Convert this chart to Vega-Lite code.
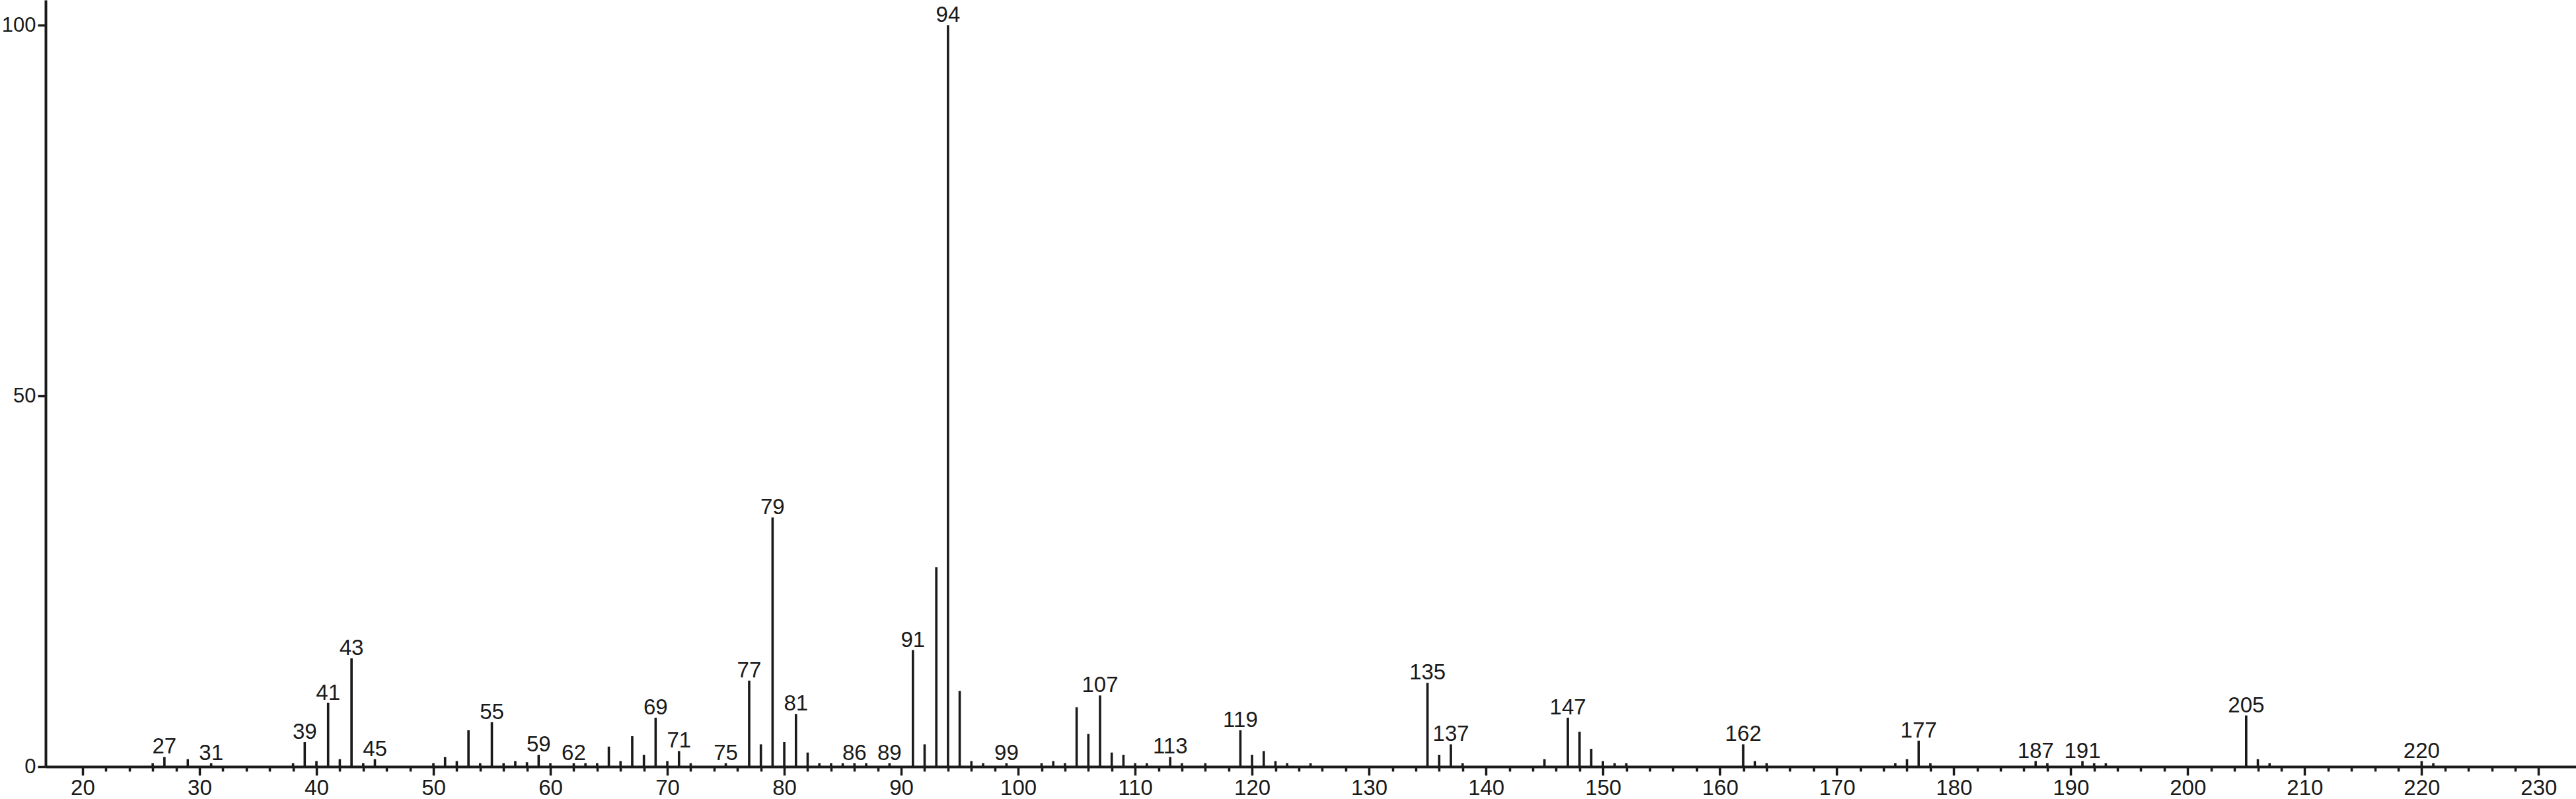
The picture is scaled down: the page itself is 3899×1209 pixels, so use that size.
{
  "$schema": "https://vega.github.io/schema/vega-lite/v6.json",
  "autosize": "none",
  "width": 3830,
  "height": 1160,
  "padding": {"left": 69, "top": 0, "right": 0, "bottom": 49},
  "background": "white",
  "config": {
    "view": {"stroke": null},
    "font": "Liberation Sans",
    "axis": {"grid": false, "title": null, "labelFont": "Liberation Sans", "labelFontSize": 33, "labelColor": "#1a1a1a", "domainColor": "#1a1a1a", "tickColor": "#1a1a1a", "domainWidth": 4, "tickWidth": 3.5}
  },
  "data": {"values": [
    {"mz": 26, "i": 0.45}, {"mz": 27, "i": 1.3, "label": "27"}, {"mz": 29, "i": 1.0}, {"mz": 31, "i": 0.45, "label": "31"},
    {"mz": 38, "i": 0.45}, {"mz": 39, "i": 3.3, "label": "39"}, {"mz": 40, "i": 0.74}, {"mz": 41, "i": 8.6, "label": "41"},
    {"mz": 42, "i": 1.0}, {"mz": 43, "i": 14.6, "label": "43"}, {"mz": 44, "i": 0.45}, {"mz": 45, "i": 1.0, "label": "45"},
    {"mz": 50, "i": 0.45}, {"mz": 51, "i": 1.3}, {"mz": 52, "i": 0.74}, {"mz": 53, "i": 4.9}, {"mz": 54, "i": 0.45},
    {"mz": 55, "i": 6.0, "label": "55"}, {"mz": 56, "i": 0.45}, {"mz": 57, "i": 0.74}, {"mz": 58, "i": 0.6},
    {"mz": 59, "i": 1.6, "label": "59"}, {"mz": 60, "i": 0.45}, {"mz": 62, "i": 0.45, "label": "62"}, {"mz": 63, "i": 0.45},
    {"mz": 64, "i": 0.45}, {"mz": 65, "i": 2.7}, {"mz": 66, "i": 0.74}, {"mz": 67, "i": 4.1}, {"mz": 68, "i": 1.6},
    {"mz": 69, "i": 6.6, "label": "69"}, {"mz": 70, "i": 0.74}, {"mz": 71, "i": 2.1, "label": "71"}, {"mz": 72, "i": 0.45},
    {"mz": 75, "i": 0.45, "label": "75"}, {"mz": 77, "i": 11.6, "label": "77"}, {"mz": 78, "i": 3.0},
    {"mz": 79, "i": 33.6, "label": "79"}, {"mz": 80, "i": 3.3}, {"mz": 81, "i": 7.1, "label": "81"}, {"mz": 82, "i": 1.9},
    {"mz": 83, "i": 0.45}, {"mz": 84, "i": 0.45}, {"mz": 85, "i": 0.45}, {"mz": 86, "i": 0.45, "label": "86"},
    {"mz": 87, "i": 0.45}, {"mz": 89, "i": 0.45, "label": "89"}, {"mz": 91, "i": 15.7, "label": "91"}, {"mz": 92, "i": 3.0},
    {"mz": 93, "i": 26.9}, {"mz": 94, "i": 100, "label": "94"}, {"mz": 95, "i": 10.2}, {"mz": 96, "i": 0.74},
    {"mz": 97, "i": 0.45}, {"mz": 99, "i": 0.45, "label": "99"}, {"mz": 102, "i": 0.45}, {"mz": 103, "i": 0.74},
    {"mz": 104, "i": 0.45}, {"mz": 105, "i": 8.0}, {"mz": 106, "i": 4.4}, {"mz": 107, "i": 9.6, "label": "107"},
    {"mz": 108, "i": 1.9}, {"mz": 109, "i": 1.6}, {"mz": 110, "i": 0.45}, {"mz": 111, "i": 0.45},
    {"mz": 113, "i": 1.3, "label": "113"}, {"mz": 114, "i": 0.45}, {"mz": 116, "i": 0.45},
    {"mz": 119, "i": 4.9, "label": "119"}, {"mz": 120, "i": 1.6}, {"mz": 121, "i": 2.1}, {"mz": 122, "i": 0.74},
    {"mz": 123, "i": 0.45}, {"mz": 125, "i": 0.45}, {"mz": 135, "i": 11.3, "label": "135"}, {"mz": 136, "i": 1.6},
    {"mz": 137, "i": 3.0, "label": "137"}, {"mz": 138, "i": 0.45}, {"mz": 145, "i": 1.0},
    {"mz": 147, "i": 6.6, "label": "147"}, {"mz": 148, "i": 4.7}, {"mz": 149, "i": 2.4}, {"mz": 150, "i": 0.74},
    {"mz": 151, "i": 0.45}, {"mz": 152, "i": 0.45}, {"mz": 162, "i": 3.0, "label": "162"}, {"mz": 163, "i": 0.74},
    {"mz": 164, "i": 0.45}, {"mz": 175, "i": 0.45}, {"mz": 176, "i": 1.0}, {"mz": 177, "i": 3.5, "label": "177"},
    {"mz": 178, "i": 0.45}, {"mz": 187, "i": 0.74, "label": "187"}, {"mz": 188, "i": 0.45},
    {"mz": 191, "i": 0.74, "label": "191"}, {"mz": 192, "i": 0.45}, {"mz": 193, "i": 0.45},
    {"mz": 205, "i": 6.9, "label": "205"}, {"mz": 206, "i": 1.0}, {"mz": 207, "i": 0.45},
    {"mz": 220, "i": 0.74, "label": "220"}, {"mz": 221, "i": 0.45}
  ]},
  "encoding": {
    "x": {"field": "mz", "type": "quantitative",
      "scale": {"domain": [16.84, 233.2], "nice": false, "zero": false},
      "axis": {
        "values": [20,22,24,26,28,30,32,34,36,38,40,42,44,46,48,50,52,54,56,58,60,62,64,66,68,70,72,74,76,78,80,82,84,86,88,90,92,94,96,98,100,102,104,106,108,110,112,114,116,118,120,122,124,126,128,130,132,134,136,138,140,142,144,146,148,150,152,154,156,158,160,162,164,166,168,170,172,174,176,178,180,182,184,186,188,190,192,194,196,198,200,202,204,206,208,210,212,214,216,218,220,222,224,226,228,230],
        "tickSize": {"condition": {"test": "datum.value % 10 === 0", "value": 13}, "value": 7},
        "labelExpr": "datum.value % 10 === 0 ? datum.label : ''",
        "labelOverlap": false,
        "labelFlush": false,
        "labelPadding": 3
      }},
    "y": {"field": "i", "type": "quantitative",
      "scale": {"domain": [0, 103.4], "nice": false},
      "axis": {"values": [0, 50, 100], "tickSize": 12, "labelPadding": 3, "labelFontSize": 31, "labelBaseline": "middle"}}
  },
  "layer": [
    {"mark": {"type": "rule", "color": "#1a1a1a", "strokeWidth": 3.6},
     "encoding": {"y2": {"datum": 0}}},
    {"transform": [{"filter": "datum.label"}],
     "mark": {"type": "text", "fontSize": 33, "font": "Liberation Sans", "color": "#1a1a1a", "baseline": "alphabetic", "align": "center", "dy": -5},
     "encoding": {"text": {"field": "label"}}}
  ]
}
